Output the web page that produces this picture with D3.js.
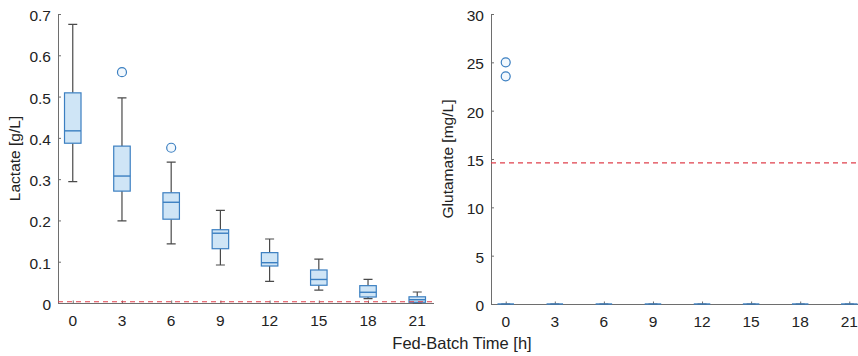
<!DOCTYPE html>
<html>
<head>
<meta charset="utf-8">
<script src="https://cdn.jsdelivr.net/npm/d3@7"></script>
<style>
  html, body { margin: 0; padding: 0; background: #fff; }
  svg { display: block; font-family: "Liberation Sans", Arial, sans-serif; }
</style>
</head>
<body>
<svg id="chart" width="858" height="356"></svg>
<script>
// Sampling times (h) shared by both panels
const times = ["0", "3", "6", "9", "12", "15", "18", "21"];

// Lactate [g/L] box statistics per time point
const lacLowWhisker = [0.294, 0.199, 0.143, 0.092, 0.0525, 0.031, 0.0105, 0.0];
const lacQ1         = [0.387, 0.271, 0.203, 0.1315, 0.0896, 0.043, 0.0145, 0.0017];
const lacMedian     = [0.417, 0.3075, 0.244, 0.169, 0.0976, 0.057, 0.026, 0.008];
const lacQ3         = [0.509, 0.380, 0.267, 0.1775, 0.122, 0.080, 0.042, 0.015];
const lacHighWhisker= [0.675, 0.497, 0.341, 0.2245, 0.155, 0.1065, 0.057, 0.0266];
const lacOutliers   = [[], [0.559], [0.376], [], [], [], [], []];
const lacLimit = 0.003;
const lacTicks = [0, 0.1, 0.2, 0.3, 0.4, 0.5, 0.6, 0.7];

// Glutamate [mg/L] box statistics per time point
const gluLowWhisker = [0, 0, 0, 0, 0, 0, 0, 0];
const gluQ1         = [0, 0, 0, 0, 0, 0, 0, 0];
const gluMedian     = [0, 0, 0, 0, 0, 0, 0, 0];
const gluQ3         = [0, 0, 0, 0, 0, 0, 0, 0];
const gluHighWhisker= [0, 0, 0, 0, 0, 0, 0, 0];
const gluOutliers   = [[25.0, 23.55], [], [], [], [], [], [], []];
const gluLimit = 14.6;
const gluTicks = [0, 5, 10, 15, 20, 25, 30];

const boxStroke = "#3b7fc1";
const boxFill = "#cfe5f6";
const whiskerColor = "#4a4a4a";
const axisColor = "#6e6e6e";
const textColor = "#222222";
const limitColor = "#e0404c";

const svg = d3.select("#chart");

function panel(opts) {
  const { x0, x1, y0, y1, yMax, ticks, tickFmt, label,
          lo, q1, med, q3, hi, outl, limit } = opts;
  const g = svg.append("g");

  const x = d3.scaleLinear().domain([-0.3, 7.3]).range([x0, x1]);
  const y = d3.scaleLinear().domain([0, yMax]).range([y1, y0]);
  const boxW = 16.5, capW = 9;

  const clipId = "clip" + Math.round(x0);
  svg.append("clipPath").attr("id", clipId)
    .append("rect").attr("x", x0).attr("y", y0 - 10).attr("width", x1 - x0 + 2).attr("height", y1 - y0 + 12);

  // axes (ticks pointing inward)
  const yAxis = d3.axisRight(y).tickValues(ticks).tickSize(3).tickFormat(() => "");
  g.append("g").attr("transform", `translate(${x0},0)`).call(yAxis)
    .call(s => s.select(".domain").attr("d", `M0.5,${y0}V${y1}`))
    .call(s => s.selectAll("line").attr("stroke", axisColor))
    .call(s => s.select(".domain").attr("stroke", axisColor));
  const xAxis = d3.axisTop(x).tickValues(d3.range(8)).tickSize(3).tickFormat(() => "");
  g.append("g").attr("transform", `translate(0,${y1 + 0.5})`).call(xAxis)
    .call(s => s.select(".domain").attr("d", `M${x0},0H${x1 + 2}`))
    .call(s => s.selectAll("line").attr("stroke", axisColor))
    .call(s => s.select(".domain").attr("stroke", axisColor));

  // tick labels
  g.selectAll(".ylab").data(ticks).join("text")
    .attr("x", x0 - 7).attr("y", d => y(d) + 7)
    .attr("text-anchor", "end").attr("font-size", 15.5).attr("fill", textColor)
    .text(tickFmt);
  g.selectAll(".xlab").data(times).join("text")
    .attr("x", (d, i) => x(i)).attr("y", y1 + 23)
    .attr("text-anchor", "middle").attr("font-size", 15.5).attr("fill", textColor)
    .text(d => d);

  // y-axis title
  g.append("text")
    .attr("transform", `translate(${x0 - 38},${(y0 + y1) / 2}) rotate(-90)`)
    .attr("text-anchor", "middle").attr("font-size", 15.5).attr("fill", textColor)
    .text(label);

  const plot = g.append("g").attr("clip-path", `url(#${clipId})`);

  const idx = d3.range(8);
  // whiskers
  plot.selectAll(".wh").data(idx).join("path")
    .attr("d", i => `M${x(i)},${y(q3[i])}V${y(hi[i])}M${x(i) - capW / 2},${y(hi[i])}H${x(i) + capW / 2}` +
                    `M${x(i)},${y(q1[i])}V${y(lo[i])}M${x(i) - capW / 2},${y(lo[i])}H${x(i) + capW / 2}`)
    .attr("stroke", whiskerColor).attr("stroke-width", 1.2).attr("fill", "none");
  // boxes
  plot.selectAll(".bx").data(idx).join("rect")
    .attr("x", i => x(i) - boxW / 2).attr("width", boxW)
    .attr("y", i => y(q3[i])).attr("height", i => Math.max(0, y(q1[i]) - y(q3[i])))
    .attr("fill", boxFill).attr("stroke", boxStroke).attr("stroke-width", 1.2);
  // medians
  plot.selectAll(".md").data(idx).join("line")
    .attr("x1", i => x(i) - boxW / 2).attr("x2", i => x(i) + boxW / 2)
    .attr("y1", i => y(med[i])).attr("y2", i => y(med[i]))
    .attr("stroke", boxStroke).attr("stroke-width", 1.4);
  // outliers
  const pts = idx.flatMap(i => outl[i].map(v => ({ i, v })));
  plot.selectAll(".ol").data(pts).join("circle")
    .attr("cx", d => x(d.i)).attr("cy", d => y(d.v)).attr("r", 4.5)
    .attr("fill", "#f2f8fd").attr("stroke", boxStroke).attr("stroke-width", 1.2);

  // limit line
  plot.append("line")
    .attr("x1", x0).attr("x2", x1 + 2).attr("y1", y(limit)).attr("y2", y(limit))
    .attr("stroke", limitColor).attr("stroke-width", 1.1).attr("stroke-dasharray", "5,4");
}

panel({ x0: 58, x1: 432, y0: 14, y1: 303, yMax: 0.7, ticks: lacTicks,
        tickFmt: d => d === 0 ? "0" : d3.format(".1f")(d), label: "Lactate [g/L]",
        lo: lacLowWhisker, q1: lacQ1, med: lacMedian, q3: lacQ3, hi: lacHighWhisker,
        outl: lacOutliers, limit: lacLimit });

panel({ x0: 491, x1: 864, y0: 14, y1: 304, yMax: 30, ticks: gluTicks,
        tickFmt: d => String(d), label: "Glutamate [mg/L]",
        lo: gluLowWhisker, q1: gluQ1, med: gluMedian, q3: gluQ3, hi: gluHighWhisker,
        outl: gluOutliers, limit: gluLimit });

// shared x-axis title
svg.append("text")
  .attr("x", 462).attr("y", 349)
  .attr("text-anchor", "middle").attr("font-size", 16.5).attr("fill", textColor)
  .text("Fed-Batch Time [h]");
</script>
</body>
</html>
